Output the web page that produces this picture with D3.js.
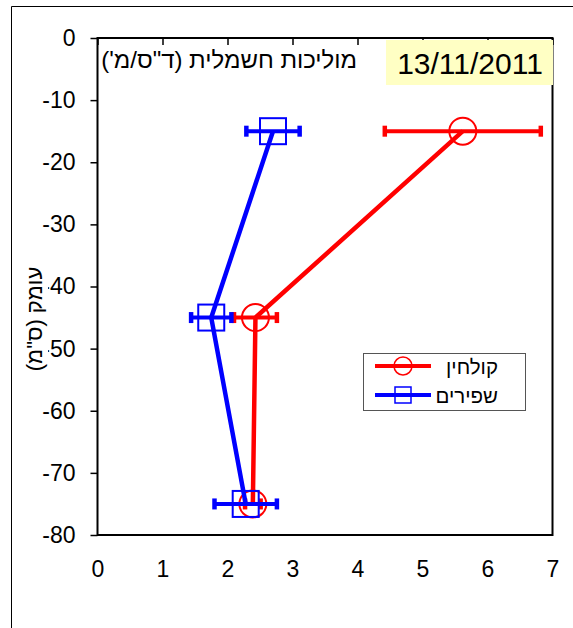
<!DOCTYPE html>
<html>
<head>
<meta charset="utf-8">
<script src="https://cdn.jsdelivr.net/npm/d3@7/dist/d3.min.js"></script>
<style>
  html, body { margin: 0; padding: 0; background: #ffffff; }
  svg { display: block; font-family: "Liberation Sans", Arial, sans-serif; }
</style>
</head>
<body>
<svg id="chart" width="573" height="628"></svg>
<script>
// Depth profile of electrical conductivity, two water sources
const depths = [-15, -45, -75];
const kolchinValues = [5.62, 2.43, 2.39];
const kolchinErrors = [1.2, 0.33, 0.12];
const shfirimValues = [2.70, 1.75, 2.28];
const shfirimErrors = [0.41, 0.31, 0.48];
const seriesNames = ["קולחין", "שפירים"];
const xTicks = [0, 1, 2, 3, 4, 5, 6, 7];
const yTicks = [0, -10, -20, -30, -40, -50, -60, -70, -80];
const dateLabel = "13/11/2011";
const xTitle = "מוליכות חשמלית (ד\"ס/מ')";
const yTitle = "עומק (ס\"מ)";

const svg = d3.select("#chart");
const plot = { left: 97.5, right: 552.5, top: 38, bottom: 535 };
const tickFmt = d => String(d); // plain hyphen-minus

const x = d3.scaleLinear().domain([0, 7]).range([plot.left, plot.right]);
const y = d3.scaleLinear().domain([-80, 0]).range([plot.bottom, plot.top]);

// outer frame
svg.append("path")
  .attr("d", `M11.5,628 L11.5,6.5 L573,6.5`)
  .attr("fill", "none").attr("stroke", "#000").attr("stroke-width", 1);

// y axis: ticks pointing out, labels on the left
const yAxis = svg.append("g")
  .attr("transform", `translate(${plot.left},0)`)
  .call(d3.axisLeft(y).tickValues(yTicks).tickSize(7).tickPadding(15).tickFormat(tickFmt));
yAxis.select(".domain").remove();
yAxis.selectAll("line").attr("stroke", "#000").attr("stroke-width", 1.5);
yAxis.selectAll("text").attr("font-size", 23).attr("fill", "#000")
  .attr("font-family", "'Liberation Sans', Arial, sans-serif");

// x axis sits on the zero line (top): ticks point inward
const xAxisTop = svg.append("g")
  .attr("transform", `translate(0,${plot.top})`)
  .call(d3.axisBottom(x).tickValues(xTicks).tickSize(7).tickFormat(""));
xAxisTop.select(".domain").remove();
xAxisTop.selectAll("line").attr("stroke", "#000").attr("stroke-width", 1.5);

// x tick labels placed below the plot
const xAxisLabels = svg.append("g")
  .attr("transform", `translate(0,${plot.bottom})`)
  .call(d3.axisBottom(x).tickValues(xTicks).tickSize(0).tickPadding(26).tickFormat(tickFmt));
xAxisLabels.select(".domain").remove();
xAxisLabels.selectAll("text").attr("font-size", 23).attr("fill", "#000")
  .attr("font-family", "'Liberation Sans', Arial, sans-serif");

// plot area border
svg.append("rect")
  .attr("x", plot.left).attr("y", plot.top)
  .attr("width", plot.right - plot.left).attr("height", plot.bottom - plot.top)
  .attr("fill", "none").attr("stroke", "#000").attr("stroke-width", 2);

// y axis title with white backing
const yTitleG = svg.append("g").attr("transform", "translate(42,319) rotate(-90)");
const yTitleBg = yTitleG.append("rect").attr("fill", "#fff");
const yTitleText = yTitleG.append("text")
  .attr("text-anchor", "middle")
  .attr("font-size", 22)
  .attr("fill", "#000")
  .text(yTitle);
const yb = yTitleText.node().getBBox();
yTitleBg.attr("x", yb.x - 1).attr("y", yb.y).attr("width", yb.width + 2).attr("height", yb.height + 1);

// x axis title inside plot
svg.append("text")
  .attr("x", 357).attr("y", 68)
  .attr("text-anchor", "end")
  .attr("font-size", 24)
  .attr("fill", "#000")
  .text(xTitle);

// date label with pale yellow box
svg.append("rect")
  .attr("x", 386).attr("y", 40).attr("width", 167).attr("height", 45)
  .attr("fill", "#ffffc4");
svg.append("text")
  .attr("x", 470).attr("y", 74)
  .attr("text-anchor", "middle")
  .attr("font-size", 30)
  .attr("fill", "#000")
  .text(dateLabel);

const series = [
  { name: seriesNames[0], values: kolchinValues, errors: kolchinErrors, color: "#ff0000", marker: "circle" },
  { name: seriesNames[1], values: shfirimValues, errors: shfirimErrors, color: "#0000ff", marker: "square" }
];

const line = d3.line().x(d => x(d.v)).y(d => y(d.depth));

function drawMarker(g, type, cx, cy, size, color, sw) {
  if (type === "circle") {
    g.append("circle").attr("cx", cx).attr("cy", cy).attr("r", size / 2)
      .attr("fill", "none").attr("stroke", color).attr("stroke-width", sw);
  } else {
    g.append("rect").attr("x", cx - size / 2).attr("y", cy - size / 2)
      .attr("width", size).attr("height", size)
      .attr("fill", "none").attr("stroke", color).attr("stroke-width", sw);
  }
}

series.forEach(s => {
  const pts = depths.map((depth, i) => ({ depth, v: s.values[i], e: s.errors[i] }));
  const g = svg.append("g");

  // horizontal error bars with caps
  pts.forEach(p => {
    const cy = y(p.depth);
    g.append("line")
      .attr("x1", x(p.v - p.e)).attr("x2", x(p.v + p.e))
      .attr("y1", cy).attr("y2", cy)
      .attr("stroke", s.color).attr("stroke-width", 4);
    [p.v - p.e, p.v + p.e].forEach(ev => {
      g.append("line")
        .attr("x1", x(ev)).attr("x2", x(ev))
        .attr("y1", cy - 5.5).attr("y2", cy + 5.5)
        .attr("stroke", s.color).attr("stroke-width", 4.5);
    });
  });

  g.append("path").datum(pts)
    .attr("d", line)
    .attr("fill", "none").attr("stroke", s.color).attr("stroke-width", 4.5)
    .attr("stroke-linejoin", "round");

  pts.forEach(p => drawMarker(g, s.marker, x(p.v), y(p.depth), s.marker === "circle" ? 27 : 26, s.color, 2));
});

// legend
const legend = svg.append("g");
legend.append("rect")
  .attr("x", 363.5).attr("y", 353.5).attr("width", 162).attr("height", 57)
  .attr("fill", "#fff").attr("stroke", "#555").attr("stroke-width", 1);
series.forEach((s, i) => {
  const ly = 366 + i * 29;
  legend.append("line")
    .attr("x1", 375).attr("x2", 431).attr("y1", ly).attr("y2", ly)
    .attr("stroke", s.color).attr("stroke-width", 4);
  drawMarker(legend, s.marker, 403, ly, s.marker === "circle" ? 18 : 16, s.color, 1.5);
  legend.append("text")
    .attr("x", 498).attr("y", ly + 8)
    .attr("text-anchor", "end")
    .attr("font-size", 20.5)
    .attr("fill", "#000")
    .text(s.name);
});
</script>
</body>
</html>
